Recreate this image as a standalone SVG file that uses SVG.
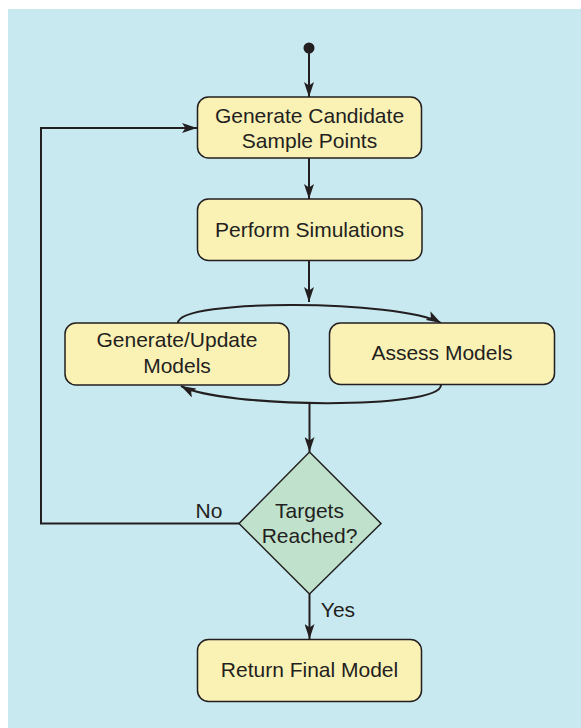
<svg xmlns="http://www.w3.org/2000/svg" width="581" height="728" viewBox="0 0 581 728">
<style>
.box{fill:#faf1b5;stroke:#231f20;stroke-width:1.5}
.dia{fill:#c0e2cd;stroke:#231f20;stroke-width:1.5}
.ln{fill:none;stroke:#231f20;stroke-width:2}
text{font-family:"Liberation Sans",Arial,sans-serif;font-size:21px;fill:#231f20;text-anchor:middle}
</style>
<defs>
<marker id="ah" viewBox="0 0 15 10" refX="15" refY="5" markerWidth="15" markerHeight="10" markerUnits="userSpaceOnUse" orient="auto">
<path d="M0,0 L15,5 L0,10 L3.5,5 z" fill="#231f20"/>
</marker>
</defs>
<rect x="8" y="9" width="573" height="719" fill="#c8e9f0"/>
<g id="connectors">
<circle cx="309" cy="48" r="5.5" fill="#231f20"/>
<line class="ln" x1="309" y1="50" x2="309" y2="97" marker-end="url(#ah)"/>
<line class="ln" x1="309" y1="158" x2="309" y2="199" marker-end="url(#ah)"/>
<line class="ln" x1="309" y1="261" x2="309" y2="302" marker-end="url(#ah)"/>
<path class="ln" d="M178,323 C178,298 400,300 441,323" marker-end="url(#ah)"/>
<path class="ln" d="M441,385 C441,410 222,408 181,386" marker-end="url(#ah)"/>
<line class="ln" x1="309.5" y1="404" x2="309.5" y2="452" marker-end="url(#ah)"/>
<polyline class="ln" points="239,523.5 41,523.5 41,128 197,128" marker-end="url(#ah)"/>
<line class="ln" x1="309.5" y1="594" x2="309.5" y2="639" marker-end="url(#ah)"/>
<text x="209" y="518">No</text>
<text x="338" y="617">Yes</text>
</g>
<g id="n1">
<rect class="box" x="197.5" y="97" width="224" height="61" rx="11"/>
<text x="309.5" y="123">Generate Candidate</text>
<text x="309.5" y="147.5">Sample Points</text>
</g>
<g id="n2">
<rect class="box" x="197.5" y="199" width="224.5" height="61.5" rx="11"/>
<text x="309.5" y="236.5">Perform Simulations</text>
</g>
<g id="n3">
<rect class="box" x="65" y="323" width="224" height="62" rx="11"/>
<text x="177" y="347">Generate/Update</text>
<text x="177" y="372.5">Models</text>
</g>
<g id="n4">
<rect class="box" x="329.5" y="323" width="225" height="61.5" rx="11"/>
<text x="442" y="360">Assess Models</text>
</g>
<g id="n5">
<polygon class="dia" points="309.5,452 381,523.5 309.5,594 239,523.5"/>
<text x="309.5" y="518">Targets</text>
<text x="309.5" y="543">Reached?</text>
</g>
<g id="n6">
<rect class="box" x="197.5" y="639.5" width="224" height="62" rx="11"/>
<text x="309.5" y="677">Return Final Model</text>
</g>
</svg>
